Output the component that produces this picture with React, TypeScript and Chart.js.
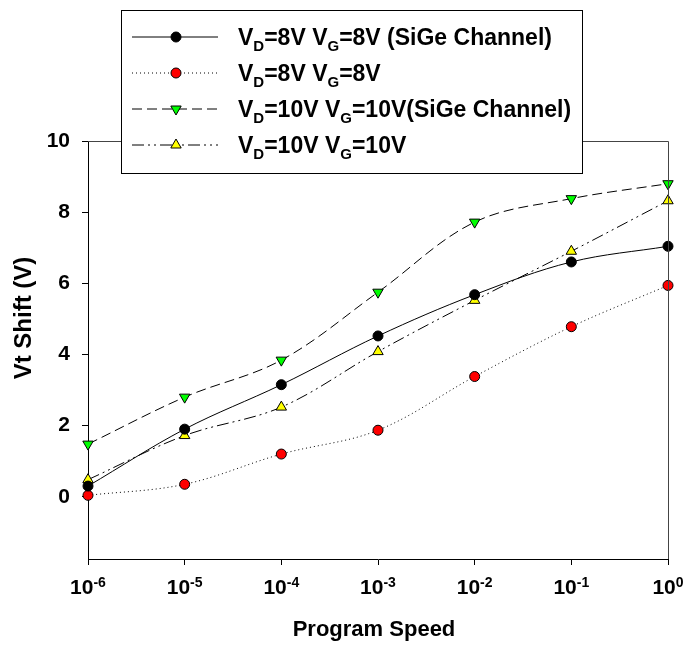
import React, { useEffect, useRef } from 'react';
import { Chart, registerables } from 'chart.js';

Chart.register(...registerables);

// ---- data ----
const programSpeed = [1e-6, 1e-5, 1e-4, 1e-3, 1e-2, 1e-1, 1];
const xTickExponents = [-6, -5, -4, -3, -2, -1, 0];
const yTickValues = [0, 2, 4, 6, 8, 10];
const sige8 = [0.3, 1.9, 3.15, 4.52, 5.68, 6.6, 7.04];
const plain8 = [0.04, 0.35, 1.2, 1.87, 3.38, 4.78, 5.94];
const sige10 = [1.48, 2.8, 3.84, 5.75, 7.72, 8.38, 8.8];
const plain10 = [0.48, 1.72, 2.52, 4.08, 5.52, 6.9, 8.32];
const legendLabels = [
  ['V', 'D', '=8V V', 'G', '=8V (SiGe Channel)'],
  ['V', 'D', '=8V V', 'G', '=8V'],
  ['V', 'D', '=10V V', 'G', '=10V(SiGe Channel)'],
  ['V', 'D', '=10V V', 'G', '=10V'],
];
const xTitle = 'Program Speed';
const yTitle = 'Vt Shift (V)';

const FONT = '"Liberation Sans", Arial, Helvetica, sans-serif';

type SeriesStyle = {
  color: string;
  fill: string;
  dash: number[];
  marker: 'circle' | 'triangle' | 'triangleDown';
};

const styles: SeriesStyle[] = [
  { color: '#000000', fill: '#000000', dash: [], marker: 'circle' },
  { color: '#000000', fill: '#ff0000', dash: [1, 3], marker: 'circle' },
  { color: '#000000', fill: '#00ff00', dash: [10, 5], marker: 'triangleDown' },
  { color: '#000000', fill: '#ffff00', dash: [12, 4, 2, 4, 2, 4], marker: 'triangle' },
];

function drawMarker(ctx: CanvasRenderingContext2D, kind: string, x: number, y: number, fill: string) {
  ctx.save();
  ctx.setLineDash([]);
  ctx.fillStyle = fill;
  ctx.strokeStyle = '#000';
  ctx.lineWidth = 1;
  ctx.beginPath();
  if (kind === 'circle') {
    ctx.arc(x, y, 5, 0, Math.PI * 2);
  } else {
    const r = 6;
    const dir = kind === 'triangle' ? 1 : -1;
    ctx.moveTo(x, y - dir * r);
    ctx.lineTo(x + r * Math.sin((2 * Math.PI) / 3), y - dir * r * Math.cos((2 * Math.PI) / 3));
    ctx.lineTo(x - r * Math.sin((2 * Math.PI) / 3), y - dir * r * Math.cos((2 * Math.PI) / 3));
    ctx.closePath();
  }
  ctx.fill();
  ctx.stroke();
  ctx.restore();
}

export default function App() {
  const ref = useRef<HTMLCanvasElement>(null);

  useEffect(() => {
    document.body.style.margin = '0';
    const canvas = ref.current!;

    const overlay = {
      id: 'overlay',
      afterDraw(chart: any) {
        const { ctx, chartArea: a, scales } = chart;
        const xs = scales.x;
        ctx.save();
        // top & right frame
        ctx.strokeStyle = '#444';
        ctx.lineWidth = 1;
        ctx.setLineDash([]);
        ctx.beginPath();
        ctx.moveTo(a.left, a.top + 0.5);
        ctx.lineTo(a.right + 0.5, a.top + 0.5);
        ctx.lineTo(a.right + 0.5, a.bottom);
        ctx.stroke();

        // x tick labels with superscripts
        ctx.fillStyle = '#000';
        ctx.textBaseline = 'alphabetic';
        ctx.textAlign = 'left';
        xTickExponents.forEach((e) => {
          const px = xs.getPixelForValue(Math.pow(10, e));
          ctx.font = `bold 21px ${FONT}`;
          const w1 = ctx.measureText('10').width;
          ctx.font = `bold 14px ${FONT}`;
          const sup = String(e);
          const w2 = ctx.measureText(sup).width;
          const start = px - (w1 + w2) / 2;
          ctx.font = `bold 21px ${FONT}`;
          ctx.fillText('10', start, 594);
          ctx.font = `bold 14px ${FONT}`;
          ctx.fillText(sup, start + w1, 587);
        });

        // axis titles
        ctx.font = `bold 22px ${FONT}`;
        ctx.textAlign = 'center';
        ctx.fillText(xTitle, (a.left + a.right) / 2 - 4, 636);
        ctx.save();
        ctx.font = `bold 24px ${FONT}`;
        ctx.translate(31, 318);
        ctx.rotate(-Math.PI / 2);
        ctx.fillText(yTitle, 0, 0);
        ctx.restore();

        // legend
        const bx = 121, by = 10, bw = 461, bh = 163;
        ctx.fillStyle = '#fff';
        ctx.fillRect(bx, by, bw, bh);
        ctx.strokeStyle = '#000';
        ctx.strokeRect(bx + 0.5, by + 0.5, bw, bh);
        legendLabels.forEach((parts, i) => {
          const cy = 37 + i * 36;
          const st = styles[i];
          ctx.save();
          ctx.strokeStyle = st.color;
          ctx.lineWidth = 1;
          ctx.setLineDash(st.dash);
          ctx.beginPath();
          ctx.moveTo(132, cy);
          ctx.lineTo(218, cy);
          ctx.stroke();
          ctx.restore();
          drawMarker(ctx, st.marker, 176, cy, st.fill);
          let x = 238;
          ctx.fillStyle = '#000';
          ctx.textAlign = 'left';
          parts.forEach((p, j) => {
            const isSub = j % 2 === 1;
            ctx.font = isSub ? `bold 15px ${FONT}` : `bold 23px ${FONT}`;
            ctx.fillText(p, x, isSub ? cy + 14 : cy + 8);
            x += ctx.measureText(p).width;
          });
        });
        ctx.restore();
      },
    };

    const seriesList = [sige8, plain8, sige10, plain10];
    const datasets = seriesList.map((vals, i) => {
      const st = styles[i];
      return {
        label: legendLabels[i].join(''),
        data: programSpeed.map((x, k) => ({ x, y: vals[k] })),
        borderColor: st.color,
        borderWidth: 1,
        borderDash: st.dash,
        backgroundColor: st.fill,
        pointBackgroundColor: st.fill,
        pointBorderColor: '#000',
        pointBorderWidth: 1,
        pointStyle: st.marker === 'circle' ? 'circle' : 'triangle',
        pointRotation: st.marker === 'triangleDown' ? 180 : 0,
        pointRadius: st.marker === 'circle' ? 5 : 6,
        tension: 0.35,
        fill: false,
        clip: false as const,
      };
    });

    const chart = new Chart(canvas, {
      type: 'line',
      data: { datasets },
      plugins: [overlay],
      options: {
        responsive: false,
        animation: false,
        devicePixelRatio: 1,
        layout: { padding: { left: 0, right: 18, top: 141, bottom: 0 } },
        plugins: { legend: { display: false }, tooltip: { enabled: false } },
        scales: {
          x: {
            type: 'logarithmic',
            min: 1e-6,
            max: 1,
            afterBuildTicks: (s: any) => {
              s.ticks = xTickExponents.map((e) => ({ value: Math.pow(10, e) }));
            },
            afterFit: (s: any) => {
              s.height = 89;
            },
            ticks: { display: false },
            grid: { display: true, drawOnChartArea: false, drawTicks: true, tickLength: 6, color: '#000' },
            border: { display: true, color: '#000', width: 1 },
          },
          y: {
            type: 'linear',
            min: -1.75,
            max: 10,
            afterBuildTicks: (s: any) => {
              s.ticks = yTickValues.map((v) => ({ value: v }));
            },
            afterFit: (s: any) => {
              s.width = 88;
            },
            ticks: {
              padding: 12,
              color: '#000',
              font: { family: FONT, size: 21, weight: 'bold' },
            },
            grid: { display: true, drawOnChartArea: false, drawTicks: true, tickLength: 6, color: '#000' },
            border: { display: true, color: '#000', width: 1 },
          },
        },
      },
    } as any);

    return () => chart.destroy();
  }, []);

  return (
    <div style={{ position: 'absolute', left: 0, top: 0, width: 686, height: 648, background: '#fff' }}>
      <canvas ref={ref} width={686} height={648} style={{ display: 'block' }} />
    </div>
  );
}
